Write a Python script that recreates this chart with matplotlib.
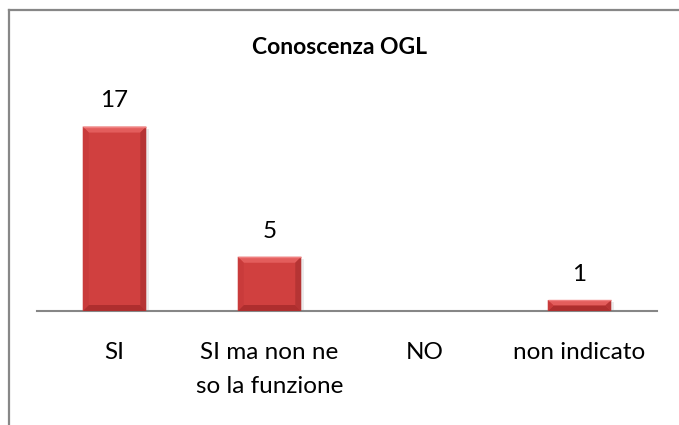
import matplotlib
matplotlib.use("Agg")
import matplotlib.pyplot as plt
from matplotlib.patches import Polygon, Rectangle
from matplotlib.lines import Line2D
import numpy as np

categories = ["SI", "SI ma non ne\nso la funzione", "NO", "non indicato"]
values = [17, 5, 0, 1]
title = "Conoscenza OGL"

plt.rcParams['font.family'] = ['Lato', 'DejaVu Sans']

W, H = 679, 425
fig = plt.figure(figsize=(W / 100, H / 100), dpi=100)
fig.patch.set_facecolor("white")

# chart frame (cut at right/bottom as in reference)
fig.add_artist(Line2D([8.5 / W, 1.0], [1 - 10 / H, 1 - 10 / H], color="#878787", lw=1.6, transform=fig.transFigure))
fig.add_artist(Line2D([8.5 / W, 8.5 / W], [0, 1 - 10 / H], color="#878787", lw=1.6, transform=fig.transFigure))

ax_left, ax_right = 37 / W, 657 / W
ax_bottom = (H - 311) / H
ax_top = (H - 94) / H
ax = fig.add_axes([ax_left, ax_bottom, ax_right - ax_left, ax_top - ax_bottom])
ax.set_xlim(-0.5, len(categories) - 0.5)
ax.set_ylim(0, 20)
for s in ["top", "right", "left"]:
    ax.spines[s].set_visible(False)
ax.spines["bottom"].set_color("#868686")
ax.spines["bottom"].set_linewidth(1.5)
ax.set_yticks([])
x = np.arange(len(categories))
ax.set_xticks(x)
ax.set_xticklabels(categories, fontsize=17.5, linespacing=1.78, color="#000000")
ax.tick_params(axis="x", length=0, pad=22)

bw = 0.41
bars = ax.bar(x, values, width=bw, color="#D0403F", zorder=3)

# bevel effect derived from bar geometry
px_x = (len(categories)) / ((ax_right - ax_left) * W)  # data units per pixel in x
px_y = 20 / ((ax_top - ax_bottom) * H)
for b in bars:
    h = b.get_height()
    if h <= 0:
        continue
    x0, x1 = b.get_x(), b.get_x() + b.get_width()
    bx = 6 * px_x
    by = min(6 * px_y, h / 2)
    # shadow
    ax.add_patch(Rectangle((x1, 0), 3 * px_x, h - 2 * px_y, color="#000000", alpha=0.08, zorder=2, lw=0))
    # top bevel
    ax.add_patch(Polygon([(x0, h), (x1, h), (x1 - bx, h - by), (x0 + bx, h - by)], closed=True, color="#E35D5C", lw=0, zorder=4))
    # bottom bevel
    ax.add_patch(Polygon([(x0, 0), (x1, 0), (x1 - bx, by), (x0 + bx, by)], closed=True, color="#AE2E2E", lw=0, zorder=4))
    # left bevel
    ax.add_patch(Polygon([(x0, 0), (x0, h), (x0 + bx, h - by), (x0 + bx, by)], closed=True, color="#C93B3B", lw=0, zorder=4))
    # right bevel
    ax.add_patch(Polygon([(x1, 0), (x1, h), (x1 - bx, h - by), (x1 - bx, by)], closed=True, color="#B53434", lw=0, zorder=4))
    # top highlight line
    ax.plot([x0, x1], [h, h], color="#F08080", lw=1, zorder=5, solid_capstyle="butt")

for xi, v in zip(x, values):
    if v > 0:
        ax.annotate(str(v), (xi, v), xytext=(0, 18.5), textcoords="offset points",
                    ha="center", va="center", fontsize=17.5, color="#000000")

fig.text(0.5, 1 - 47 / H, title, ha="center", va="center", fontsize=16.5, fontweight="bold", color="#000000")

fig.savefig("out.png", dpi=100, facecolor="white")
